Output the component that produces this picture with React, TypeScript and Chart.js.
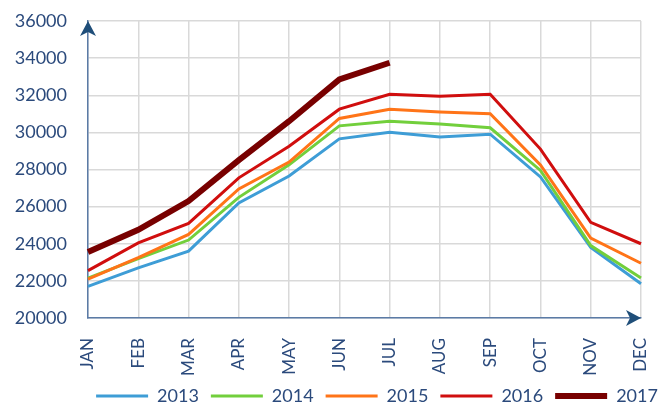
import React, { useEffect, useRef } from "react";
import { Chart, registerables } from "chart.js";

Chart.register(...registerables);

const months = ["JAN", "FEB", "MAR", "APR", "MAY", "JUN", "JUL", "AUG", "SEP", "OCT", "NOV", "DEC"];
const s2013 = [21700, 22700, 23600, 26200, 27650, 29650, 30000, 29750, 29900, 27600, 23800, 21850];
const s2014 = [22150, 23200, 24200, 26500, 28250, 30350, 30600, 30450, 30250, 27950, 23900, 22150];
const s2015 = [22100, 23250, 24500, 26950, 28400, 30750, 31250, 31100, 31000, 28250, 24300, 22950];
const s2016 = [22550, 24050, 25100, 27550, 29250, 31250, 32050, 31950, 32050, 29100, 25150, 24000];
const s2017 = [23550, 24750, 26300, 28500, 30600, 32850, 33750, null, null, null, null, null];
const yMin = 20000;
const yMax = 36000;
const yStep = 2000;

const TEXT = "#2B4A7C";
const AXIS = "#5B7BA6";
const ARROW = "#1F4E79";

const arrowPlugin = {
  id: "axisArrows",
  afterLayout(chart: any) {
    const lg = chart.legend;
    if (lg) {
      lg.left += 42;
      lg.right += 42;
    }
  },
  afterDraw(chart: any) {
    const { ctx, chartArea } = chart;
    const { left, right, top, bottom } = chartArea;
    ctx.save();
    ctx.fillStyle = ARROW;
    ctx.beginPath();
    ctx.moveTo(left, top);
    ctx.lineTo(left + 8, top + 15);
    ctx.lineTo(left, top + 11);
    ctx.lineTo(left - 8, top + 15);
    ctx.closePath();
    ctx.fill();
    ctx.beginPath();
    ctx.moveTo(right, bottom);
    ctx.lineTo(right - 15, bottom - 8);
    ctx.lineTo(right - 11, bottom);
    ctx.lineTo(right - 15, bottom + 8);
    ctx.closePath();
    ctx.fill();
    ctx.restore();
  },
};

export default function App() {
  const ref = useRef<HTMLCanvasElement>(null);
  useEffect(() => {
    if (!ref.current) return;
    const mk = (label: string, data: (number | null)[], color: string, width: number, order: number) => ({
      label,
      data,
      borderColor: color,
      backgroundColor: color,
      borderWidth: width,
      pointRadius: 0,
      tension: 0,
      order,
      spanGaps: false,
    });
    const chart = new Chart(ref.current, {
      type: "line",
      data: {
        labels: months,
        datasets: [
          mk("2013", s2013, "#3E9DD6", 3, 4),
          mk("2014", s2014, "#72CF3C", 3, 3),
          mk("2015", s2015, "#FF7418", 3, 2),
          mk("2016", s2016, "#D00E0E", 3, 1),
          mk("2017", s2017, "#780000", 6, 0),
        ],
      },
      options: {
        responsive: false,
        animation: false,
        layout: { padding: { top: 21, right: 0, left: 0, bottom: -10 } },
        plugins: {
          tooltip: { enabled: false },
          legend: {
            position: "bottom",
            labels: {
              usePointStyle: true,
              pointStyle: "line",
              pointStyleWidth: 52,
              boxHeight: 18,
              padding: 12,
              color: TEXT,
              font: { family: "Lato", size: 18 },
              sort: (a: any, b: any) => a.datasetIndex - b.datasetIndex,
            },
          },
        },
        scales: {
          x: {
            clip: false,
            grid: { color: "#D9D9D9", lineWidth: 1.5, drawTicks: false },
            border: { color: AXIS, width: 1.5 },
            ticks: {
              color: TEXT,
              font: { family: "Lato", size: 17 },
              minRotation: 90,
              maxRotation: 90,
              padding: 20,
              autoSkip: false,
            },
            afterFit(scale: any) {
              scale.height = 57;
              scale.paddingRight = 29;
              scale.paddingLeft = 0;
            },
          },
          y: {
            min: yMin,
            max: yMax,
            grid: { color: "#D9D9D9", lineWidth: 1.5, drawTicks: false },
            border: { color: AXIS, width: 1.5 },
            ticks: {
              stepSize: yStep,
              color: TEXT,
              font: { family: "Lato", size: 18 },
              padding: 21,
              callback: (v: any) => String(v),
            },
            afterFit(scale: any) {
              scale.width = 88;
              scale.paddingTop = 0;
              scale.paddingBottom = 0;
            },
          },
        },
      },
      plugins: [arrowPlugin],
    });
    return () => chart.destroy();
  }, []);
  return (
    <div style={{ position: "fixed", left: 0, top: 0, width: 670, height: 405, background: "#fff" }}>
      <canvas ref={ref} width={670} height={405} style={{ display: "block" }} />
    </div>
  );
}
